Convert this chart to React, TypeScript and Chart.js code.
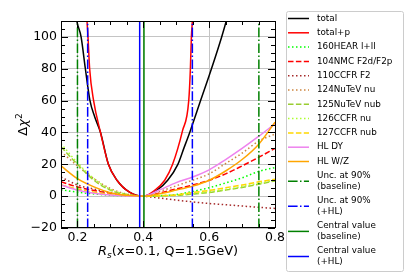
import React, { useEffect, useRef } from 'react';
import { Chart, registerables } from 'chart.js';

Chart.register(...registerables);

// ---------- data ----------
const rsGrid = [0.15, 0.2, 0.25, 0.3, 0.35, 0.4, 0.45, 0.5, 0.55, 0.6, 0.65, 0.7, 0.75, 0.8];

const totalX = [0.19, 0.198, 0.211, 0.224, 0.238, 0.252, 0.27, 0.294, 0.32, 0.358, 0.4, 0.44, 0.474, 0.505, 0.523, 0.541, 0.574, 0.607, 0.638, 0.652, 0.665];
const totalY = [122, 110, 100, 80, 60, 50, 40, 20, 10, 2.5, 0, 3.5, 10, 20, 30, 40, 60, 80, 100, 110, 120];

const totalPX = [0.226, 0.229, 0.232, 0.237, 0.249, 0.27, 0.294, 0.32, 0.358, 0.4, 0.435, 0.465, 0.489, 0.519, 0.538, 0.543, 0.546, 0.549, 0.552];
const totalPY = [125, 110, 100, 80, 60, 40, 20, 10, 2.5, 0, 3.75, 10, 20, 41, 60, 80, 100, 110, 125];

const hear160 = [4, 2.5, 1.4, 0.6, 0.15, 0, 0.3, 1, 3, 5.3, 8.3, 11.5, 15.5, 18];
const nmc104 = [9, 5.8, 3.6, 1.8, 0.5, 0, 2, 4.5, 7, 10, 14, 19, 24.3, 30];
const ccfr110 = [12, 7, 4.5, 2.3, 0.9, 0, -1.2, -2.5, -3.6, -4.6, -5.4, -6.2, -7, -7.7];
const nutev124 = [28, 19, 11, 4.8, 1.3, 0, 3, 6.5, 10, 14, 20.5, 27, 34.5, 39];
const nutev125 = [31, 20, 10, 3.8, 1, 0, 0.2, 0.5, 1.3, 2.3, 3.8, 5.5, 7.5, 9.6];
const ccfr126 = [33, 21, 11, 4.2, 1.1, 0, 0.3, 0.7, 1.6, 2.7, 4.2, 6, 8, 10];
const ccfr127 = [7, 4.5, 2.5, 1.1, 0.3, 0, 0.3, 0.8, 2.3, 3.6, 5.3, 7, 9, 10.6];
const hlDY = [7, 3.75, 1.8, 0.7, 0.15, 0, 4, 8.5, 12, 16.5, 23, 30, 37.5, 45.5];
const hlWZ = [19, 11, 5.8, 2.2, 0.5, 0, 1.5, 3.8, 6.3, 10, 15.8, 23, 32.5, 46.5];

const uncBaseline = [0.2, 0.751];
const uncHL = [0.231, 0.549];
const centralBaseline = [0.402];
const centralHL = [0.389];

const xTickValues = [0.2, 0.4, 0.6, 0.8];
const yTickValues = [-20, 0, 20, 40, 60, 80, 100];
const xRange = [0.15, 0.8];
const yRange = [-20, 110];
const xMinorStep = 0.05;
const yMinorStep = 5;

// ---------- styles ----------
const SOLID: number[] = [];
const DASHED = [5.5, 2.4];
const DOTTED = [1.5, 2.5];
const DASHDOT = [9.6, 2.4, 1.5, 2.4];

type Series = { label: string[]; color: string; dash: number[]; xs?: number[]; ys?: number[]; vlines?: number[] };

const series: Series[] = [
  { label: ['total'], xs: totalX, ys: totalY, color: '#000000', dash: SOLID },
  { label: ['total+p'], xs: totalPX, ys: totalPY, color: '#ff0000', dash: SOLID },
  { label: ['160HEAR l+ll'], xs: rsGrid, ys: hear160, color: '#00ff00', dash: DOTTED },
  { label: ['104NMC F2d/F2p'], xs: rsGrid, ys: nmc104, color: '#ff0000', dash: DASHED },
  { label: ['110CCFR F2'], xs: rsGrid, ys: ccfr110, color: '#a52a2a', dash: DOTTED },
  { label: ['124NuTeV nu'], xs: rsGrid, ys: nutev124, color: '#cd853f', dash: DOTTED },
  { label: ['125NuTeV nub'], xs: rsGrid, ys: nutev125, color: '#9acd32', dash: DASHED },
  { label: ['126CCFR nu'], xs: rsGrid, ys: ccfr126, color: '#adff2f', dash: DOTTED },
  { label: ['127CCFR nub'], xs: rsGrid, ys: ccfr127, color: '#ffd700', dash: DASHED },
  { label: ['HL DY'], xs: rsGrid, ys: hlDY, color: '#ee82ee', dash: SOLID },
  { label: ['HL W/Z'], xs: rsGrid, ys: hlWZ, color: '#ffa500', dash: SOLID },
  { label: ['Unc. at 90%', '(baseline)'], vlines: uncBaseline, color: '#008000', dash: DASHDOT },
  { label: ['Unc. at 90%', '(+HL)'], vlines: uncHL, color: '#0000ff', dash: DASHDOT },
  { label: ['Central value', '(baseline)'], vlines: centralBaseline, color: '#008000', dash: SOLID },
  { label: ['Central value', '(+HL)'], vlines: centralHL, color: '#0000ff', dash: SOLID },
];

const FONT = '"DejaVu Sans"';
const TICK_FONT = 12.5;
const TITLE_FONT = 13;
const LEGEND_FONT = 8.8;
const MAJOR = 7;
const MINOR = 4;

const decorPlugin = {
  id: 'decor',
  afterDraw(chart: any) {
    const { ctx, chartArea } = chart;
    const { left, right, top, bottom } = chartArea;
    const xs = chart.scales.x;
    const ys = chart.scales.y;
    ctx.save();
    ctx.setLineDash([]);
    ctx.strokeStyle = '#000';
    ctx.lineWidth = 1;
    ctx.beginPath();
    const nx = Math.round((xRange[1] - xRange[0]) / xMinorStep);
    for (let k = 0; k <= nx; k++) {
      const v = xRange[0] + k * xMinorStep;
      const px = Math.round(xs.getPixelForValue(v)) + 0.5;
      const len = xTickValues.some((t) => Math.abs(t - v) < 1e-6) ? MAJOR : MINOR;
      ctx.moveTo(px, bottom); ctx.lineTo(px, bottom - len);
      ctx.moveTo(px, top); ctx.lineTo(px, top + len);
    }
    const ny = Math.round((yRange[1] - yRange[0]) / yMinorStep);
    for (let k = 0; k <= ny; k++) {
      const v = yRange[0] + k * yMinorStep;
      const py = Math.round(ys.getPixelForValue(v)) + 0.5;
      const len = yTickValues.some((t) => Math.abs(t - v) < 1e-6) ? MAJOR : MINOR;
      ctx.moveTo(left, py); ctx.lineTo(left + len, py);
      ctx.moveTo(right, py); ctx.lineTo(right - len, py);
    }
    ctx.stroke();
    ctx.strokeRect(Math.round(left) + 0.5, Math.round(top) + 0.5, Math.round(right - left), Math.round(bottom - top) - 1);

    // axis titles
    ctx.fillStyle = '#000';
    ctx.textBaseline = 'alphabetic';
    ctx.textAlign = 'left';
    const cx = (left + right) / 2;
    const partsX = [
      { t: 'R', f: `italic ${TITLE_FONT}px ${FONT}`, dy: 0 },
      { t: 's', f: `italic ${TITLE_FONT * 0.7}px ${FONT}`, dy: 3 },
      { t: '(x=0.1, Q=1.5GeV)', f: `${TITLE_FONT}px ${FONT}`, dy: 0 },
    ];
    let w = 0;
    partsX.forEach((p) => { ctx.font = p.f; w += ctx.measureText(p.t).width; });
    let x0 = cx - w / 2;
    partsX.forEach((p) => { ctx.font = p.f; ctx.fillText(p.t, x0, 255 + p.dy); x0 += ctx.measureText(p.t).width; });

    ctx.save();
    ctx.translate(27, (top + bottom) / 2);
    ctx.rotate(-Math.PI / 2);
    const partsY = [
      { t: 'Δ', f: `${TITLE_FONT}px ${FONT}`, dy: 0 },
      { t: 'χ', f: `italic ${TITLE_FONT}px ${FONT}`, dy: 0 },
      { t: '2', f: `${TITLE_FONT * 0.7}px ${FONT}`, dy: -5 },
    ];
    w = 0;
    partsY.forEach((p) => { ctx.font = p.f; w += ctx.measureText(p.t).width; });
    x0 = -w / 2;
    partsY.forEach((p) => { ctx.font = p.f; ctx.fillText(p.t, x0, p.dy); x0 += ctx.measureText(p.t).width; });
    ctx.restore();

    // legend
    const bx = 286, by = 11, bw = 117, bh = 260;
    ctx.beginPath();
    ctx.roundRect(bx + 0.5, by + 0.5, bw, bh, 2);
    ctx.fillStyle = 'rgba(255,255,255,0.8)';
    ctx.fill();
    ctx.strokeStyle = '#cccccc';
    ctx.lineWidth = 1;
    ctx.stroke();
    ctx.font = `${LEGEND_FONT}px ${FONT}`;
    ctx.textBaseline = 'middle';
    const ROW = 14.3;
    const GAP = 10.8;
    let y = 18.5;
    series.forEach((s) => {
      const h = (s.label.length - 1) * GAP;
      const mid = y + h / 2;
      ctx.beginPath();
      ctx.setLineDash(s.dash);
      ctx.strokeStyle = s.color;
      ctx.lineWidth = 1.5;
      ctx.moveTo(288, mid);
      ctx.lineTo(309, mid);
      ctx.stroke();
      ctx.setLineDash([]);
      ctx.fillStyle = '#000';
      s.label.forEach((t, j) => ctx.fillText(t, 317, y + j * GAP));
      y += h + ROW;
    });
    ctx.restore();
  },
};

export default function App() {
  const ref = useRef<HTMLCanvasElement | null>(null);
  useEffect(() => {
    if (!ref.current) return;
    Chart.defaults.font.family = FONT;
    Chart.defaults.font.size = TICK_FONT;
    Chart.defaults.color = '#000';
    const datasets: any[] = [];
    series.forEach((s, i) => {
      if (s.vlines) {
        s.vlines.forEach((v) =>
          datasets.push({
            data: [{ x: v, y: yRange[0] }, { x: v, y: yRange[1] }],
            borderColor: s.color, borderDash: s.dash, borderWidth: 1.5,
            pointRadius: 0, tension: 0, fill: false, order: -i,
          })
        );
      } else {
        datasets.push({
          data: (s.xs as number[]).map((x, k) => ({ x, y: (s.ys as number[])[k] })),
          borderColor: s.color, borderDash: s.dash, borderWidth: 1.5,
          pointRadius: 0, cubicInterpolationMode: 'monotone', fill: false, order: -i,
        });
      }
    });
    const chart = new Chart(ref.current, {
      type: 'line',
      data: { datasets },
      options: {
        animation: false,
        responsive: false,
        devicePixelRatio: 1,
        layout: { padding: { left: 0, right: 145, top: 21, bottom: 0 } },
        plugins: { legend: { display: false }, tooltip: { enabled: false } },
        scales: {
          x: {
            type: 'linear', min: xRange[0], max: xRange[1],
            afterBuildTicks: (sc: any) => { sc.ticks = xTickValues.map((v) => ({ value: v })); },
            afterFit: (sc: any) => { sc.height = 52; },
            grid: { color: '#c4c4c4', lineWidth: 1, drawTicks: false },
            border: { display: false },
            ticks: { padding: 2.5, autoSkip: false, maxRotation: 0, callback: (v: any) => Number(v).toFixed(1) },
          },
          y: {
            type: 'linear', min: yRange[0], max: yRange[1],
            afterBuildTicks: (sc: any) => { sc.ticks = yTickValues.map((v) => ({ value: v })); },
            afterFit: (sc: any) => { sc.width = 61; },
            grid: { color: '#c4c4c4', lineWidth: 1, drawTicks: false },
            border: { display: false },
            ticks: { padding: 4, callback: (v: any) => (v < 0 ? '\u2212' + Math.abs(v) : String(v)) },
          },
        },
      },
      plugins: [decorPlugin],
    } as any);
    return () => chart.destroy();
  }, []);
  return (
    <div style={{ position: 'absolute', left: 0, top: 0, width: 420, height: 280, background: '#fff' }}>
      <canvas ref={ref} width={420} height={280} style={{ display: 'block' }} />
    </div>
  );
}
